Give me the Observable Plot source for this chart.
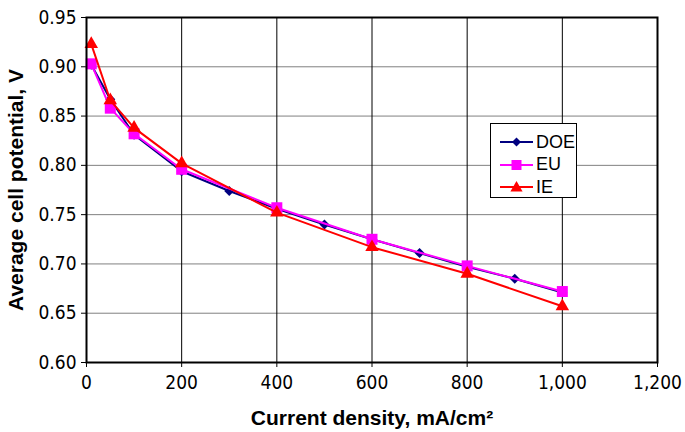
<!DOCTYPE html>
<html>
<head>
<meta charset="utf-8">
<script src="https://cdn.jsdelivr.net/npm/d3@7"></script>
<script src="https://cdn.jsdelivr.net/npm/@observablehq/plot@0.6"></script>
<style>
  body { margin: 0; background: #fff; }
  #wrap { position: relative; width: 685px; height: 432px; font-family: "Liberation Sans", Arial, sans-serif; }
  #wrap svg text { fill: #000; }
  g[aria-label="y-axis tick label"] text, g[aria-label="x-axis tick label"] text { font-family: "Liberation Sans Narrow", "Arial Narrow", "DejaVu Sans Condensed", sans-serif; font-size: 19px; }
  g[aria-label="y-axis label"] text, g[aria-label="x-axis label"] text { font-family: "Liberation Sans", Arial, sans-serif; font-weight: bold; font-size: 21px; }
  #legend { position: absolute; left: 490px; top: 123px; width: 85px; height: 73px; border: 1px solid #000; background: #fff; }
  #legend .row { position: absolute; left: 0; height: 22px; display: flex; align-items: center; font-size: 18px; }
  #legend .row svg { margin-left: 9px; margin-right: 3px; }
</style>
</head>
<body>
<div id="wrap"></div>
<script>
const seriesNames = ["DOE", "EU", "IE"];
const seriesColors = ["#000080", "#FF00FF", "#FF0000"];
const seriesSymbols = ["diamond2", "square", "triangle"];

const xDOE = [10, 50, 100, 200, 300, 400, 500, 600, 700, 800, 900, 1000];
const vDOE = [0.902, 0.867, 0.831, 0.794, 0.774, 0.756, 0.740, 0.725, 0.711, 0.697, 0.685, 0.671];

const xEU = [10, 50, 100, 200, 400, 600, 800, 1000];
const vEU = [0.903, 0.858, 0.832, 0.796, 0.757, 0.725, 0.698, 0.672];

const xIE = [10, 50, 100, 200, 400, 600, 800, 1000];
const vIE = [0.923, 0.866, 0.838, 0.802, 0.752, 0.717, 0.690, 0.657];

const xTicks = [0, 200, 400, 600, 800, 1000, 1200];
const yTicks = [0.60, 0.65, 0.70, 0.75, 0.80, 0.85, 0.90, 0.95];

const rows = [];
[[xDOE, vDOE], [xEU, vEU], [xIE, vIE]].forEach(([xs, vs], i) => {
  xs.forEach((x, j) => rows.push({series: seriesNames[i], x, v: vs[j]}));
});

const markRadius = [4.5, 6.2, 5.0];
const lineMarks = [];
seriesNames.forEach((s, i) => {
  const d = rows.filter(r => r.series === s);
  lineMarks.push(Plot.line(d, {x: "x", y: "v", stroke: seriesColors[i], strokeWidth: 2}));
  lineMarks.push(Plot.dot(d, {x: "x", y: "v", symbol: () => seriesSymbols[i], fill: seriesColors[i], stroke: "none", r: markRadius[i]}));
});

const chart = Plot.plot({
  width: 685,
  height: 432,
  marginLeft: 86,
  marginRight: 28,
  marginTop: 17,
  marginBottom: 70,
  style: {fontFamily: "'Liberation Sans', Arial, sans-serif", fontSize: "17px", background: "#fff", overflow: "visible"},
  x: {domain: [0, 1200]},
  y: {domain: [0.60, 0.95]},
  marks: [
    Plot.ruleY(yTicks, {stroke: "#808080", strokeWidth: 1}),
    Plot.ruleX(xTicks, {stroke: "#000", strokeWidth: 1}),
    Plot.axisX({ticks: xTicks, tickFormat: d3.format(","), tickSize: 5, tickPadding: 8, label: "Current density, mA/cm²", labelAnchor: "center", labelArrow: "none", labelOffset: 62, stroke: "#000"}),
    Plot.axisY({ticks: yTicks, tickFormat: d3.format(".2f"), tickSize: 5, tickPadding: 5, label: "Average cell potential, V", labelAnchor: "center", labelArrow: "none", labelOffset: 78, stroke: "#000"}),
    ...lineMarks,
    Plot.frame({stroke: "#000", strokeWidth: 2})
  ]
});
document.getElementById("wrap").appendChild(chart);

// Legend
const legend = document.createElement("div");
legend.id = "legend";
const legendSymbols = [d3.symbolDiamond2, d3.symbolSquare, d3.symbolTriangle];
const legendAreas = [52, 100, 64];
seriesNames.forEach((s, i) => {
  const row = document.createElement("div");
  row.className = "row";
  row.style.top = (7 + i * 22.5) + "px";
  const sym = d3.create("svg").attr("width", 33).attr("height", 14);
  sym.append("line").attr("x1", 0).attr("x2", 33).attr("y1", 7).attr("y2", 7).attr("stroke", seriesColors[i]).attr("stroke-width", 2);
  sym.append("path").attr("d", d3.symbol(legendSymbols[i], legendAreas[i])()).attr("transform", "translate(16.5," + (i === 2 ? 8 : 7) + ")").attr("fill", seriesColors[i]);
  row.appendChild(sym.node());
  const t = document.createElement("span");
  t.textContent = s;
  row.appendChild(t);
  legend.appendChild(row);
});
document.getElementById("wrap").appendChild(legend);
</script>
</body>
</html>
